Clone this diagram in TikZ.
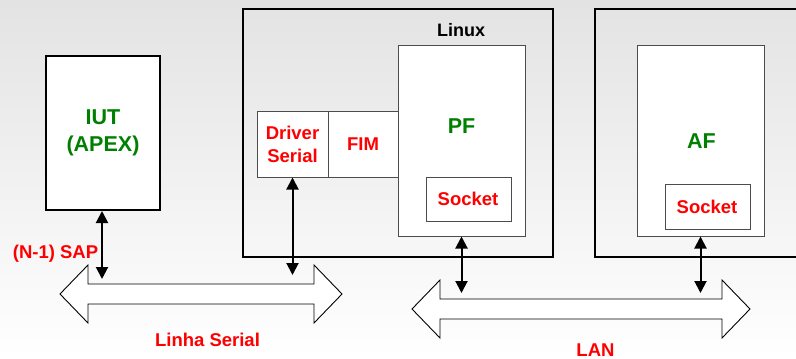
\documentclass[tikz,border=0pt]{standalone}
\usepackage{fontspec}
\setmainfont{Liberation Sans}
\usetikzlibrary{arrows.meta}
\definecolor{lblred}{RGB}{255,0,0}
\definecolor{lblgreen}{RGB}{0,128,0}
\tikzset{
  innerbox/.style={draw=black!70,line width=1pt,fill=white,inner sep=0pt},
  redlbl/.style={text=lblred,font=\bfseries\fontsize{18.5}{23}\selectfont,align=center,inner sep=0pt},
  greenlbl/.style={text=lblgreen,font=\bfseries\fontsize{21.5}{27}\selectfont,align=center,inner sep=0pt},
  blacklbl/.style={text=black,font=\bfseries\fontsize{18}{22}\selectfont,inner sep=0pt},
  biarrow/.style={line width=2pt,{Triangle[width=12pt,length=12pt]}-{Triangle[width=12pt,length=12pt]}},
  hollow/.style={draw=black,line width=0.9pt,fill=white,line join=miter}
}
\begin{document}
\begin{tikzpicture}[x=1pt,y=-1pt]
\useasboundingbox (0,0) rectangle (796,359);
\shade[top color=black!11,bottom color=white] (0,0) rectangle (796,359);
\clip (0,0) rectangle (796,359);

% outer boxes
\node[draw=black,line width=2pt,fill=white,minimum width=114pt,minimum height=154pt,inner sep=0pt,
      text=lblgreen,font=\bfseries\fontsize{21.5}{27}\selectfont,align=center] (iut) at (103,133) {IUT\\(APEX)};
\node[draw=black,line width=2pt,minimum width=310pt,minimum height=248pt,inner sep=0pt] (linux) at (398,133) {};
\node[draw=black,line width=2pt,minimum width=215pt,minimum height=248pt,inner sep=0pt] (host) at (702.5,133) {};

% inner boxes in Linux
\node[innerbox,minimum width=127pt,minimum height=191pt] (pf) at (461.5,140.5) {};
\node[innerbox,minimum width=85pt,minimum height=44pt] (pfsock) at (468.5,199) {};
\node[innerbox,minimum width=71pt,minimum height=66pt,redlbl] (drv) at (292.5,144) {Driver\\Serial};
\node[innerbox,minimum width=70pt,minimum height=66pt,redlbl] (fim) at (363,144) {FIM};

% inner boxes in right host
\node[innerbox,minimum width=127pt,minimum height=191pt] (af) at (700.5,140.5) {};
\node[innerbox,minimum width=85pt,minimum height=45pt] (afsock) at (707.5,206.5) {};

% labels
\node[blacklbl,anchor=base] (linuxlbl) at (461,36) {Linux};
\node[greenlbl,anchor=base] (pflbl) at (461.5,133.3) {PF};
\node[greenlbl,anchor=base] (aflbl) at (701.5,148.3) {AF};
\node[redlbl,anchor=base] (pfsocklbl) at (468,205) {Socket};
\node[redlbl,anchor=base] (afsocklbl) at (707,213.3) {Socket};
\node[redlbl,anchor=base] (sap) at (55.5,258) {(N-1) SAP};
\node[redlbl,anchor=base] (serial) at (207.5,346) {Linha Serial};
\node[redlbl,anchor=base] (lan) at (595.5,356) {LAN};

% hollow double arrows (buses)
\draw[hollow] (60,294) -- (88,265) -- (88,284) -- (314,284) -- (314,265) -- (342,294)
  -- (314,323) -- (314,304) -- (88,304) -- (88,323) -- cycle;
\draw[hollow] (412,309) -- (440,280) -- (440,299) -- (722,299) -- (722,280) -- (750,309)
  -- (722,338) -- (722,319) -- (440,319) -- (440,338) -- cycle;

\coordinate (iutbus) at (102,279);
\coordinate (drvbus) at (292.5,275);
\coordinate (pfbus) at (461.5,293);
\coordinate (afbus) at (700.5,293);

% vertical connectors
\draw[biarrow] (iut.south -| iutbus) -- (iutbus);
\draw[biarrow] (drv.south) -- (drvbus);
\draw[biarrow] (pf.south) -- (pfbus);
\draw[biarrow] (af.south) -- (afbus);
\end{tikzpicture}
\end{document}
